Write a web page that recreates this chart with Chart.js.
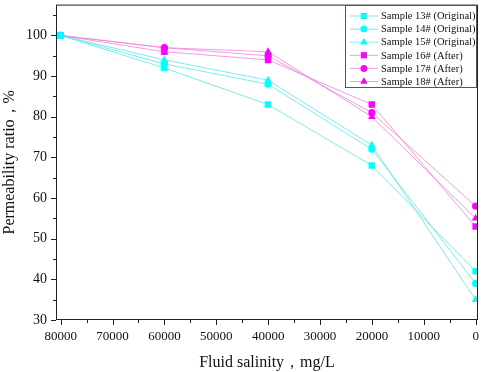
<!DOCTYPE html>
<html>
<head>
<meta charset="utf-8">
<script src="https://cdn.jsdelivr.net/npm/chart.js@4"></script>
<style>
  html, body { margin: 0; padding: 0; background: #fff; }
  #wrap { width: 484px; height: 372px; position: relative; }
</style>
</head>
<body>
<div id="wrap"><canvas id="chart"></canvas></div>
<script>
// DATA
const salinity = [80000, 60000, 40000, 20000, 0];
const sample13 = [100, 92, 83, 68, 42];
const sample14 = [100, 93, 88, 72, 39];
const sample15 = [100, 94, 89, 73, 35];
const sample16 = [100, 96, 94, 83, 53];
const sample17 = [100, 97, 95, 81, 58];
const sample18 = [100, 97, 96, 80, 55];
const seriesNames = ['Sample 13# (Original)', 'Sample 14# (Original)', 'Sample 15# (Original)',
  'Sample 16# (After)', 'Sample 17# (After)', 'Sample 18# (After)'];
const xTicks = [80000, 70000, 60000, 50000, 40000, 30000, 20000, 10000, 0];
const yTicks = [30, 40, 50, 60, 70, 80, 90, 100];

const CYAN = '#00ffff', MAGENTA = '#ff00ff';
const FONT = '"Liberation Serif", "Times New Roman", serif';

function makeSet(label, values, color, lineColor, style, r) {
  return {
    label: label,
    data: salinity.map((x, i) => ({ x: x, y: values[i] })),
    borderColor: lineColor,
    backgroundColor: color,
    borderWidth: 1,
    pointStyle: style,
    pointRadius: r,
    pointBorderWidth: 0,
    pointBackgroundColor: color,
    tension: 0
  };
}

const datasets = [
  makeSet(seriesNames[0], sample13, CYAN, 'rgba(90,230,230,0.8)', 'rect', 4.6),
  makeSet(seriesNames[1], sample14, CYAN, 'rgba(90,230,230,0.8)', 'circle', 3.6),
  makeSet(seriesNames[2], sample15, CYAN, 'rgba(90,230,230,0.8)', 'triangle', 4.4),
  makeSet(seriesNames[3], sample16, MAGENTA, 'rgba(240,130,220,0.8)', 'rect', 4.6),
  makeSet(seriesNames[4], sample17, MAGENTA, 'rgba(240,130,220,0.8)', 'circle', 3.6),
  makeSet(seriesNames[5], sample18, MAGENTA, 'rgba(240,130,220,0.8)', 'triangle', 4.4)
];

// frame, ticks and legend box
const framePlugin = {
  id: 'frame',
  afterDraw(chart) {
    const ctx = chart.ctx;
    const a = chart.chartArea;
    const xs = chart.scales.x, ys = chart.scales.y;
    ctx.save();
    ctx.strokeStyle = '#222';
    ctx.lineWidth = 1;
    ctx.strokeRect(a.left + 0.5, a.top + 0.5, a.right - a.left - 1, a.bottom - a.top - 1);
    ctx.beginPath();
    for (let v = 30; v <= 105; v += 5) {
      const y = Math.round(ys.getPixelForValue(v)) + 0.5;
      const len = v % 10 === 0 ? 5 : 3;
      ctx.moveTo(a.left, y); ctx.lineTo(a.left - len, y);
    }
    for (let v = 0; v <= 80000; v += 5000) {
      const x = Math.round(xs.getPixelForValue(v)) + 0.5;
      const len = v % 10000 === 0 ? 5 : 3;
      ctx.moveTo(x, a.bottom); ctx.lineTo(x, a.bottom + len);
    }
    ctx.stroke();

    // legend
    const bx = 345, by = 5, bw = 131, bh = 82;
    ctx.fillStyle = '#fff';
    ctx.fillRect(bx, by, bw, bh);
    ctx.strokeStyle = '#555';
    ctx.strokeRect(bx + 0.5, by + 0.5, bw, bh);
    ctx.font = '10.5px ' + FONT;
    ctx.textBaseline = 'middle';
    chart.data.datasets.forEach((ds, i) => {
      const y = 16 + i * 13.1;
      ctx.strokeStyle = ds.borderColor;
      ctx.beginPath();
      ctx.moveTo(350, y); ctx.lineTo(378, y);
      ctx.stroke();
      ctx.fillStyle = ds.pointBackgroundColor;
      Chart.helpers.drawPoint(ctx, { pointStyle: ds.pointStyle, radius: ds.pointRadius * 0.9, borderWidth: 0 }, 364, y);
      ctx.fill();
      ctx.fillStyle = '#111';
      ctx.fillText(ds.label, 381, y + 0.5);
    });
    ctx.restore();
  }
};

new Chart(document.getElementById('chart'), {
  type: 'line',
  data: { datasets: datasets },
  options: {
    responsive: true,
    maintainAspectRatio: false,
    animation: false,
    layout: { padding: { top: 3, right: 6, left: 0, bottom: 0 } },
    plugins: { legend: { display: false }, tooltip: { enabled: false } },
    scales: {
      x: {
        type: 'linear',
        reverse: true,
        min: -450,
        max: 80900,
        afterBuildTicks: (s) => { s.ticks = xTicks.map(v => ({ value: v })); },
        afterFit: (s) => { s.height = 52; s.paddingLeft = 0; s.paddingRight = 0; },
        grid: { display: false, drawTicks: false },
        border: { display: false },
        ticks: { color: '#111', padding: 9, maxRotation: 0, autoSkip: false,
          font: { family: FONT, size: 13 }, callback: (v) => String(v) },
        title: { display: true, text: 'Fluid salinity，mg/L', color: '#111',
          font: { family: FONT, size: 16 }, padding: { top: 4, bottom: 0 } }
      },
      y: {
        min: 30,
        max: 107.6,
        afterBuildTicks: (s) => { s.ticks = yTicks.map(v => ({ value: v })); },
        afterFit: (s) => { s.width = 56; s.paddingTop = 0; s.paddingBottom = 0; },
        grid: { display: false, drawTicks: false },
        border: { display: false },
        ticks: { color: '#111', padding: 9, autoSkip: false,
          font: { family: FONT, size: 14 }, callback: (v) => String(v) },
        title: { display: true, text: 'Permeability ratio，%', color: '#111',
          font: { family: FONT, size: 16 }, padding: { top: 0, bottom: 4 } }
      }
    }
  },
  plugins: [framePlugin]
});
</script>
</body>
</html>
